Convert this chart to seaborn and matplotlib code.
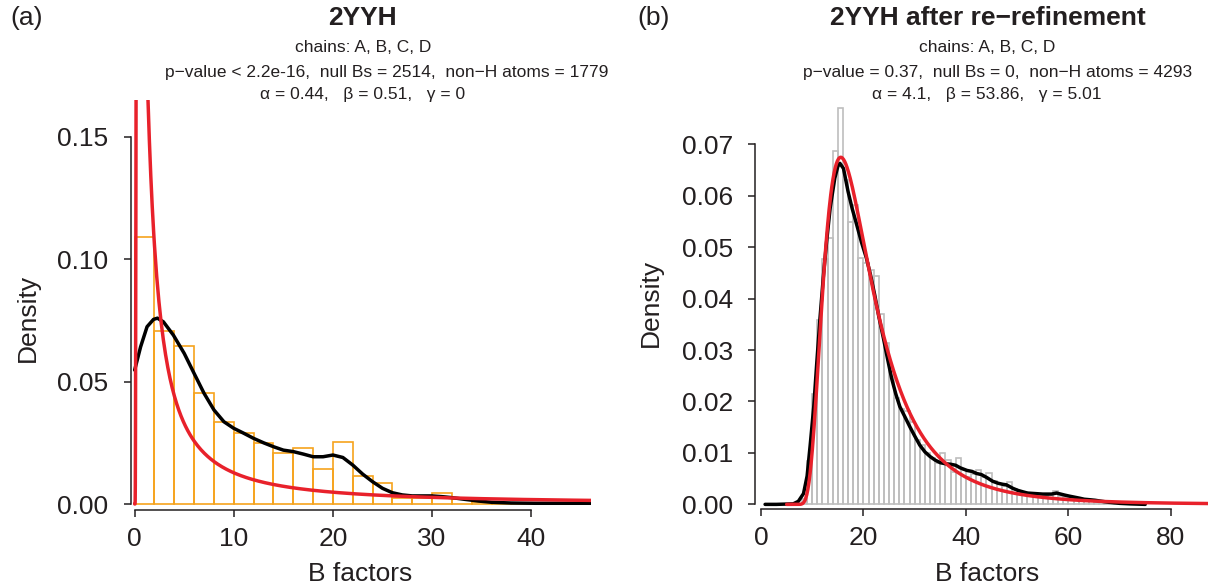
import math
import numpy as np
import pandas as pd
import matplotlib
matplotlib.use("Agg")
import matplotlib.pyplot as plt
import seaborn as sns

# ---------------- Panel (a): 2YYH as deposited ----------------
a_bin_edges = list(range(0, 48, 2))          # 2-unit bins, 0..46
a_hist_density = [0.1090, 0.0706, 0.0645, 0.0454, 0.0333, 0.0288, 0.0251,
                  0.0208, 0.0230, 0.0141, 0.0253, 0.0113, 0.0087, 0.0026,
                  0.0025, 0.0044, 0.0022, 0.0009, 0.0005, 0.0004, 0.0003,
                  0.0002, 0.0001]
a_kde_x = [0.0, 0.6, 1.25, 1.9, 2.3, 2.9, 3.9, 5.0, 6.0, 7.0, 8.0, 9.0, 10.0,
           11.0, 12.0, 13.0, 14.0, 15.0, 16.0, 17.0, 18.0, 19.0, 20.0, 21.0,
           22.0, 23.0, 24.0, 25.0, 26.0, 27.0, 28.0, 29.0, 30.0, 31.0, 32.0,
           33.3, 34.7, 36.0, 38.0, 40.4, 43.0, 46.0]
a_kde_y = [0.0547, 0.0642, 0.0724, 0.0754, 0.0759, 0.0744, 0.0690, 0.0615,
           0.0533, 0.0452, 0.0384, 0.0336, 0.0309, 0.0289, 0.0268, 0.0250,
           0.0234, 0.0220, 0.0214, 0.0204, 0.0193, 0.0193, 0.0200, 0.0190,
           0.0159, 0.0122, 0.0091, 0.0064, 0.0046, 0.0037, 0.0033, 0.0033,
           0.0033, 0.0030, 0.0026, 0.0019, 0.0012, 0.0007, 0.0004, 0.0003,
           0.0003, 0.0003]
a_alpha, a_beta, a_gamma = 0.44, 0.51, 0.0

# ---------------- Panel (b): 2YYH after re-refinement ----------------
b_bin_edges = list(range(8, 72, 1))          # 1-unit bins, 8..71
b_hist_density = [0.0010, 0.0085, 0.0215, 0.0358, 0.0477, 0.0518, 0.0686,
                  0.0770, 0.0630, 0.0548, 0.0582, 0.0478, 0.0470, 0.0456,
                  0.0443, 0.0370, 0.0313, 0.0260, 0.0206, 0.0185, 0.0182,
                  0.0160, 0.0125, 0.0115, 0.0099, 0.0090, 0.0080, 0.0099,
                  0.0086, 0.0063, 0.0091, 0.0066, 0.0053, 0.0060, 0.0066,
                  0.0053, 0.0061, 0.0045, 0.0040, 0.0035, 0.0044, 0.0030,
                  0.0025, 0.0024, 0.0022, 0.0020, 0.0019, 0.0018, 0.0020,
                  0.0026, 0.0017, 0.0014, 0.0012, 0.0010, 0.0008, 0.0007,
                  0.0006, 0.0005, 0.0004, 0.0003, 0.0002, 0.0002, 0.0001]
b_kde_x = [0.8, 3.0, 6.3, 7.3, 8.3, 9.0, 9.6, 10.3, 10.9, 11.5, 12.2, 12.8,
           13.5, 14.4, 15.0, 15.4, 16.1, 17.0, 17.8, 18.7, 19.6, 20.6, 21.4,
           22.2, 23.0, 23.9, 24.7, 25.5, 26.3, 27.1, 28.1, 29.1, 30.0, 31.0,
           32.0, 33.0, 34.0, 35.0, 36.0, 37.0, 38.0, 38.9, 40.2, 41.2, 42.1,
           43.0, 44.1, 45.2, 46.3, 47.2, 47.9, 49.2, 50.2, 50.9, 52.0, 53.5,
           55.0, 56.7, 57.7, 58.5, 59.3, 60.2, 61.2, 62.2, 63.1, 64.2, 65.2,
           66.5, 68.0, 70.0, 72.0, 75.0]
b_kde_y = [0.0, 0.0, 0.0001, 0.0006, 0.0021, 0.0055, 0.0115, 0.0190, 0.0277,
           0.0360, 0.0446, 0.0510, 0.0576, 0.0634, 0.0657, 0.0663, 0.0653,
           0.0608, 0.0575, 0.0543, 0.0510, 0.0478, 0.0445, 0.0407, 0.0365,
           0.0323, 0.0283, 0.0245, 0.0215, 0.0190, 0.0170, 0.0150, 0.0133,
           0.0115, 0.0102, 0.0093, 0.0086, 0.0081, 0.0079, 0.0078, 0.0076,
           0.0071, 0.0066, 0.0064, 0.0060, 0.0058, 0.0052, 0.0045, 0.0041,
           0.0039, 0.0038, 0.0031, 0.0027, 0.0025, 0.0022, 0.0021, 0.0020,
           0.0020, 0.0022, 0.0020, 0.0018, 0.0016, 0.0014, 0.0012, 0.0010,
           0.0009, 0.0008, 0.0006, 0.0004, 0.0002, 0.0001, 0.0]
b_alpha, b_beta, b_gamma = 4.1, 53.86, 5.01

# ---------------- styling ----------------
ORANGE = "#F6A31C"
RED = "#E8212B"
GREY = "#BEBEBE"
INK = "#231F20"

sns.set_style("white")
plt.rcParams["font.family"] = ["Liberation Sans", "DejaVu Sans"]
plt.rcParams["text.color"] = INK
plt.rcParams["axes.labelcolor"] = INK
plt.rcParams["xtick.color"] = INK
plt.rcParams["ytick.color"] = INK


def shifted_inv_gamma(x, alpha, beta, gamma):
    """Density of the shifted inverse-gamma model for B values."""
    y = np.asarray(x, dtype=float) - gamma
    out = np.zeros_like(y)
    ok = y > 0
    out[ok] = np.exp(alpha * math.log(beta) - math.lgamma(alpha)
                     - (alpha + 1.0) * np.log(y[ok]) - beta / y[ok])
    return out


def draw_panel(ax, edges, dens, hist_color, kde_x, kde_y, params, grid,
               xlim, ylim, xticks, yticks, ytick_labels):
    centers = [(edges[i] + edges[i + 1]) / 2 for i in range(len(dens))]
    hist_df = pd.DataFrame({"B": centers, "density": dens})
    sns.histplot(data=hist_df, x="B", weights="density", bins=edges,
                 stat="count", fill=False, element="bars", color=hist_color,
                 linewidth=1.2, ax=ax)
    kde_df = pd.DataFrame({"B": kde_x, "density": kde_y})
    sns.lineplot(data=kde_df, x="B", y="density", color="black",
                 linewidth=2.5, sort=False, estimator=None, ax=ax)
    fit_df = pd.DataFrame({"B": grid, "density": shifted_inv_gamma(grid, *params)})
    sns.lineplot(data=fit_df, x="B", y="density", color=RED,
                 linewidth=2.5, sort=False, estimator=None, ax=ax)

    ax.set_xlim(*xlim)
    ax.set_ylim(*ylim)
    ax.set_xticks(xticks)
    ax.set_xticklabels([str(t) for t in xticks])
    ax.set_yticks(yticks)
    ax.set_yticklabels(ytick_labels)
    ax.set_xlabel("")
    ax.set_ylabel("")
    for side in ("top", "right"):
        ax.spines[side].set_visible(False)
    for side in ("left", "bottom"):
        ax.spines[side].set_linewidth(1.1)
        ax.spines[side].set_color(INK)
    ax.spines["bottom"].set_bounds(xticks[0], xticks[-1])
    ax.spines["left"].set_bounds(yticks[0], yticks[-1])
    ax.tick_params(axis="both", which="major", direction="out", length=5,
                   width=1.1, labelsize=19, bottom=True, left=True,
                   top=False, right=False)
    ax.tick_params(axis="y", pad=11)
    ax.tick_params(axis="x", pad=7)
    ax.patch.set_alpha(0)


W, H = 1208, 587
fig = plt.figure(figsize=(W / 100, H / 100), dpi=100)

ax_a = fig.add_axes([130.7 / W, 77 / H, 460 / W, 410 / H])
ax_b = fig.add_axes([755 / W, 78 / H, 464 / W, 411 / H])

grid_a = np.concatenate([np.linspace(0.0, 2.0, 800), np.linspace(2.0, 46.5, 400)])
grid_b = np.linspace(b_gamma, 92.0, 800)

draw_panel(ax_a, a_bin_edges, a_hist_density, ORANGE, a_kde_x, a_kde_y,
           (a_alpha, a_beta, a_gamma), grid_a,
           xlim=(-0.4, 46.0), ylim=(-0.00245, 0.165),
           xticks=[0, 10, 20, 30, 40], yticks=[0.0, 0.05, 0.10, 0.15],
           ytick_labels=["0.00", "0.05", "0.10", "0.15"])

draw_panel(ax_b, b_bin_edges, b_hist_density, GREY, b_kde_x, b_kde_y,
           (b_alpha, b_beta, b_gamma), grid_b,
           xlim=(-1.17, 89.4), ylim=(-0.0009, 0.079),
           xticks=[0, 20, 40, 60, 80],
           yticks=[0.0, 0.01, 0.02, 0.03, 0.04, 0.05, 0.06, 0.07],
           ytick_labels=["0.00", "0.01", "0.02", "0.03", "0.04", "0.05",
                         "0.06", "0.07"])


def ftext(x, y, s, **kw):
    fig.text(x / W, 1 - y / H, s, ha=kw.pop("ha", "center"),
             va=kw.pop("va", "center"), **kw)


SUB = 12.5

# panel letters
ftext(10, 18, "(a)", ha="left", fontsize=19)
ftext(637, 18, "(b)", ha="left", fontsize=19)

# titles and fit summaries
ftext(362, 18, "2YYH", fontsize=19, fontweight="bold")
ftext(363, 47, "chains: A, B, C, D", fontsize=SUB)
ftext(387, 72, "p\u2212value < 2.2e-16,  null Bs = 2514,  non\u2212H atoms = 1779",
      fontsize=SUB)
ftext(363, 95, "\u03b1 = 0.44,   \u03b2 = 0.51,   \u03b3 = 0", fontsize=SUB)

ftext(988, 18, "2YYH after re\u2212refinement", fontsize=19, fontweight="bold")
ftext(987, 47, "chains: A, B, C, D", fontsize=SUB)
ftext(998, 72, "p\u2212value = 0.37,  null Bs = 0,  non\u2212H atoms = 4293",
      fontsize=SUB)
ftext(987, 95, "\u03b1 = 4.1,   \u03b2 = 53.86,   \u03b3 = 5.01", fontsize=SUB)

# axis titles
ftext(360, 574, "B factors", fontsize=19)
ftext(987, 574, "B factors", fontsize=19)
ftext(28, 318, "Density", fontsize=19, rotation=90)
ftext(651, 303, "Density", fontsize=19, rotation=90)

fig.savefig("out.png", dpi=100, facecolor="white")
